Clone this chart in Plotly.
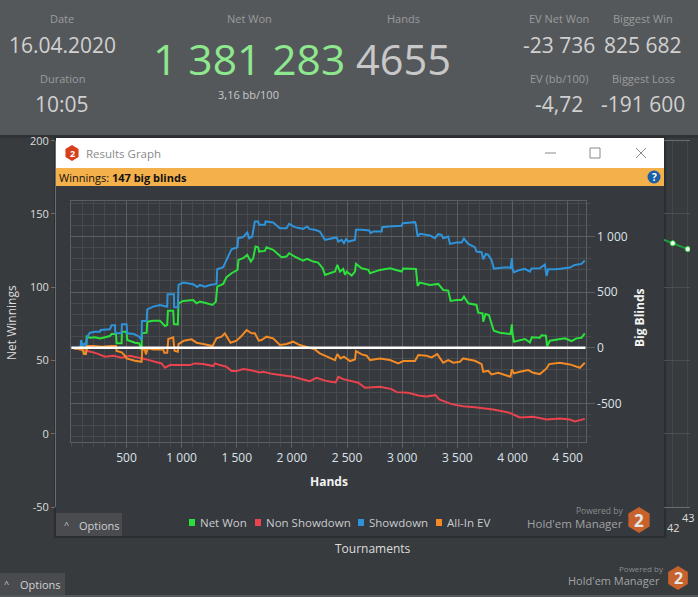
import plotly.graph_objects as go

W = 698
H = 597

# Series: hands played / big blinds
showdown_hands = [0, 48, 85, 88, 103, 124, 133, 145, 169, 214, 260, 266, 350, 365, 396, 399, 456, 459, 501, 507, 568, 616, 637, 640, 683, 689, 743, 803, 870, 873, 930, 933, 966, 972, 1015, 1060, 1105, 1142, 1166, 1211, 1256, 1317, 1323, 1377, 1407, 1453, 1507, 1513, 1558, 1595, 1613, 1640, 1664, 1694, 1703, 1755, 1761, 1830, 1891, 1951, 1975, 2026, 2102, 2138, 2162, 2208, 2253,
                  2300, 2406, 2421, 2451, 2472, 2491, 2512, 2572, 2581, 2633, 2702, 2714, 2738, 2814, 2820, 2874, 2995, 3004, 3116, 3125, 3140, 3161, 3252, 3297, 3327, 3357, 3372, 3418, 3433, 3493, 3539, 3560, 3599, 3659, 3674, 3720, 3735, 3759, 3780, 3810, 3831, 3886, 3946, 3982, 3995, 4001, 4013, 4067, 4112, 4158, 4173, 4248, 4294, 4309, 4324, 4399, 4520, 4565, 4626, 4656]
showdown_bb = [0, -6, 9, 69, 24, 39, 9, 99, 135, 144, 144, 159, 165, 201, 201, 129, 129, 210, 210, 129, 123, 99, 69, 240, 240, 345, 369, 384, 369, 480, 480, 363, 363, 564, 585, 579, 570, 546, 564, 549, 564, 573, 705, 723, 789, 885, 903, 984, 993, 1035, 984, 999, 1134, 1134, 1104, 1104, 1134, 1125, 1074, 1074, 1113, 1083, 1068, 1089, 1065, 1059, 1044,
               969, 990, 954, 969, 939, 975, 954, 969, 1059, 1059, 1053, 1029, 1044, 1044, 1083, 1089, 1095, 1119, 1128, 1104, 999, 1023, 1008, 984, 1020, 1014, 984, 999, 933, 945, 945, 981, 933, 903, 864, 858, 795, 843, 834, 789, 711, 717, 723, 717, 804, 705, 678, 699, 708, 684, 711, 714, 747, 645, 705, 705, 720, 744, 753, 783]

net_won_hands = [0, 48, 85, 94, 115, 133, 139, 169, 214, 260, 350, 365, 405, 411, 456, 459, 501, 507, 577, 616, 637, 640, 683, 689, 743, 803, 849, 870, 876, 924, 930, 966, 972, 1015, 1105, 1136, 1166, 1226, 1280, 1311, 1323, 1377, 1407, 1453, 1507, 1516, 1558, 1595, 1628, 1649, 1670, 1694, 1703, 1755, 1770, 1830, 1906, 1951, 1975, 2026, 2102, 2138, 2193, 2238, 2279,
                 2300, 2391, 2412, 2436, 2466, 2482, 2497, 2542, 2572, 2581, 2633, 2693, 2708, 2799, 2889, 2995, 3010, 3125, 3140, 3161, 3252, 3327, 3372, 3418, 3439, 3493, 3539, 3560, 3599, 3674, 3689, 3729, 3735, 3756, 3786, 3810, 3831, 3886, 3982, 3995, 4001, 4013, 4067, 4112, 4158, 4176, 4248, 4263, 4303, 4315, 4339, 4429, 4475, 4535, 4580, 4626, 4656]
net_won_bb = [0, -12, -15, 45, -51, -51, 99, 90, 93, 84, 105, 123, 123, 39, 39, 144, 144, 69, 45, 39, -21, 129, 135, 234, 243, 243, 195, 204, 333, 333, 213, 210, 399, 420, 429, 399, 414, 399, 384, 414, 549, 573, 633, 669, 699, 789, 804, 834, 774, 804, 909, 903, 864, 870, 903, 879, 813, 819, 849, 819, 783, 798, 774, 765, 714,
              654, 684, 744, 684, 708, 654, 684, 648, 684, 753, 714, 699, 669, 699, 714, 684, 711, 708, 555, 585, 564, 573, 519, 513, 420, 429, 429, 459, 399, 384, 315, 309, 234, 303, 294, 219, 153, 135, 123, 210, 123, 54, 69, 78, 48, 93, 90, 111, 108, 15, 63, 75, 84, 60, 84, 90, 129]

allin_hands = [0, 48, 85, 94, 115, 133, 145, 199, 275, 365, 405, 411, 456, 486, 501, 577, 622, 637, 643, 667, 676, 692, 743, 834, 843, 870, 879, 924, 936, 966, 972, 1021, 1090, 1136, 1196, 1280, 1317, 1362, 1392, 1422, 1444, 1498, 1543, 1589, 1634, 1664, 1700, 1724, 1770, 1830, 1891, 1951, 2011, 2072, 2132, 2208, 2253,
               2331, 2391, 2412, 2442, 2472, 2527, 2572, 2581, 2633, 2678, 2708, 2799, 2889, 2965, 3010, 3116, 3146, 3221, 3267, 3318, 3372, 3418, 3463, 3523, 3554, 3659, 3720, 3735, 3780, 3810, 3871, 3982, 3995, 4013, 4067, 4143, 4188, 4248, 4309, 4333, 4429, 4520, 4611, 4656]
allin_bb = [0, -6, -15, 9, -57, -57, 15, 15, 9, 15, 15, -30, -42, -72, -96, -117, -129, -126, -21, -15, -60, -6, -15, -15, -45, -45, 78, 93, -27, -36, 33, 63, 75, 45, 33, 15, 84, 99, 129, 84, 45, 63, 105, 159, 129, 129, 63, 69, 99, 84, 24, 33, 54, 24, 9, -15, -51,
            -81, -111, -57, -96, -81, -120, -105, -30, -60, -72, -111, -96, -111, -141, -120, -120, -66, -72, -87, -57, -135, -111, -135, -126, -96, -117, -147, -216, -207, -240, -225, -261, -195, -231, -216, -201, -225, -237, -186, -147, -135, -150, -180, -135]

non_sd_hands = [0, 79, 139, 230, 305, 381, 456, 532, 622, 683, 758, 818, 849, 894, 984, 1075, 1120, 1196, 1287, 1302, 1347, 1407, 1453, 1498, 1558, 1619, 1709, 1740, 1830, 1891, 2011, 2102, 2162, 2223, 2255, 2315, 2397, 2421, 2466, 2557, 2602, 2663, 2799, 2904,
                2950, 3055, 3146, 3221, 3303, 3336, 3448, 3554, 3659, 3825, 3976, 4067, 4188, 4309, 4429, 4520, 4565, 4656]
non_sd_bb = [0, -12, -27, -51, -81, -72, -90, -72, -90, -105, -126, -141, -180, -156, -156, -156, -141, -147, -165, -141, -156, -171, -210, -210, -192, -201, -222, -216, -237, -246, -261, -285, -300, -270, -282, -300, -312, -261, -282, -300, -315, -360, -351, -372,
             -399, -405, -429, -438, -426, -465, -507, -525, -534, -555, -585, -627, -621, -645, -636, -645, -663, -639]

# Chart behind the popup
tournaments = [41, 42, 43]
net_winnings = [134, 130, 126]

hand_ticks = [500, 1000, 1500, 2000, 2500, 3000, 3500, 4000, 4500]
hand_labels = ["500", "1 000", "1 500", "2 000", "2 500", "3 000", "3 500", "4 000", "4 500"]
bb_ticks = [-500, 0, 500, 1000]
bb_labels = ["-500", "0", "500", "1 000"]
back_ticks = [-50, 0, 50, 100, 150, 200]
back_labels = ["-50", "0", "50", "100", "150", "200"]

series_names = ["Net Won", "Non Showdown", "Showdown", "All-In EV"]
series_colors = ["#2be03c", "#e8434e", "#2f93d9", "#f28a26"]

FONT = "Open Sans"
GRID = "#47494d"
GRID_MAJOR = "#5c5f62"


# pixel position in the screenshot -> paper coordinates
def fx(x):
    return x / W


def fy(y):
    return 1 - y / H


def text(fig, x, y, s, size=12, color="#dddddd", anchor="center", angle=0):
    fig.add_annotation(xref="paper", yref="paper", x=fx(x), y=fy(y), text=s, showarrow=False,
                       xanchor=anchor, yanchor="middle", textangle=angle, borderpad=0,
                       font=dict(family=FONT, size=size, color=color))


def box(fig, x0, y0, x1, y1, fill):
    fig.add_shape(type="rect", xref="paper", yref="paper", x0=fx(x0), x1=fx(x1), y0=fy(y0), y1=fy(y1),
                  fillcolor=fill, line_width=0, layer="below")


def stroke(fig, x0, y0, x1, y1, color="#8a8a8a", width=1):
    fig.add_shape(type="line", xref="paper", yref="paper", x0=fx(x0), x1=fx(x1), y0=fy(y0), y1=fy(y1),
                  line=dict(color=color, width=width), layer="below")


def hexagon(fig, cx, cy, r, fill):
    pts = [(cx, cy - r), (cx + r * 0.82, cy - r * 0.5), (cx + r * 0.82, cy + r * 0.5),
           (cx, cy + r), (cx - r * 0.82, cy + r * 0.5), (cx - r * 0.82, cy - r * 0.5)]
    path = "M " + " L ".join(f"{fx(a):.5f},{fy(b):.5f}" for a, b in pts) + " Z"
    fig.add_shape(type="path", xref="paper", yref="paper", path=path, fillcolor=fill, line_width=0, layer="below")


fig = go.Figure()

# popup chart lines
for name, color, xs, ys in [
    ("Net Won", series_colors[0], net_won_hands, net_won_bb),
    ("Non Showdown", series_colors[1], non_sd_hands, non_sd_bb),
    ("Showdown", series_colors[2], showdown_hands, showdown_bb),
    ("All-In EV", series_colors[3], allin_hands, allin_bb),
]:
    fig.add_trace(go.Scatter(x=xs, y=ys, name=name, mode="lines", line=dict(color=color, width=2)))

# the chart behind it, only its right end shows
fig.add_trace(go.Scatter(x=tournaments, y=net_winnings, xaxis="x2", yaxis="y2", mode="lines+markers",
                         line=dict(color="#1f9a3c", width=2),
                         marker=dict(size=5, color="white", line=dict(color="#2be03c", width=1))))

fig.add_shape(type="line", xref="x", yref="y", x0=0, x1=4664, y0=0, y1=0,
              line=dict(color="white", width=2.5), layer="above")

# page and stats panel
box(fig, 0, 0, W, 135, "#55585b")
box(fig, 0, 135, W, 138, "#2f3134")
box(fig, 0, 595, W, H, "#55585b")

# popup window
box(fig, 54, 136, 666, 538, "#2b2d30")
box(fig, 56, 138, 664, 536, "#36393d")
box(fig, 56, 138, 664, 168, "#ffffff")
box(fig, 56, 168, 664, 186, "#f4b04a")
box(fig, 56, 513, 122, 536, "#494b4e")
box(fig, 0, 573, 65, 595, "#494b4e")

text(fig, 62, 19, "Date", 11, "#999b9d")
text(fig, 62, 45, "16.04.2020", 21, "#d0d0d0")
text(fig, 62, 78, "Duration", 11, "#999b9d")
text(fig, 62, 104, "10:05", 21, "#d0d0d0")
text(fig, 249, 19, "Net Won", 11, "#999b9d")
text(fig, 248.5, 59, "1 381 283", 42.5, "#8ee88e")
text(fig, 248, 95, "3,16 bb/100", 11, "#c8c8c8")
text(fig, 404, 19, "Hands", 11, "#999b9d")
text(fig, 404, 59, "4655", 41.5, "#c8c8c8")
text(fig, 559, 19, "EV Net Won", 11, "#999b9d")
text(fig, 559, 45, "-23 736", 21, "#d0d0d0")
text(fig, 643, 19, "Biggest Win", 11, "#999b9d")
text(fig, 643, 45, "825 682", 21, "#d0d0d0")
text(fig, 559, 78, "EV (bb/100)", 11, "#999b9d")
text(fig, 559, 104, "-4,72", 21, "#d0d0d0")
text(fig, 643, 78, "Biggest Loss", 11, "#999b9d")
text(fig, 643, 104, "-191 600", 21, "#d0d0d0")

# title bar
hexagon(fig, 72, 153, 8, "#d8401c")
text(fig, 72, 153, "<b>2</b>", 9, "white")
text(fig, 85, 153, "Results Graph", 11.5, "#8a8a8a", anchor="left")
stroke(fig, 545, 153, 556, 153)
stroke(fig, 590, 148, 600, 148)
stroke(fig, 590, 158, 600, 158)
stroke(fig, 590, 148, 590, 158)
stroke(fig, 600, 148, 600, 158)
stroke(fig, 636, 148, 646, 158)
stroke(fig, 636, 158, 646, 148)

text(fig, 58, 177, "Winnings: <b>147 big blinds</b>", 11, "#111111", anchor="left")
fig.add_shape(type="circle", xref="paper", yref="paper", x0=fx(647.5), x1=fx(660.5), y0=fy(170.5), y1=fy(183.5),
              fillcolor="#1b5fa8", line_width=0, layer="below")
text(fig, 654, 177, "<b>?</b>", 10, "white")

# legend row
for sx, tx, name, color in zip([192, 258, 361, 439], [199, 265, 368, 446], series_names, series_colors):
    box(fig, sx - 3, 519, sx + 3, 526, color)
    text(fig, tx, 522.5, name, 11.5, "#c9ccd0", anchor="left")

text(fig, 66, 524, "^", 9, "#cccccc")
text(fig, 99, 525, "Options", 11, "#cfd1d3")
text(fig, 6, 583, "^", 9, "#cccccc")
text(fig, 40, 584, "Options", 11, "#cfd1d3")

text(fig, 599, 510, "Powered by", 8.5, "#8a8c8e")
text(fig, 575, 523.5, "Hold'em Manager", 11.5, "#a0a2a4")
hexagon(fig, 639, 520, 13, "#c8622c")
text(fig, 639, 520, "<b>2</b>", 17, "#e6e6e6")

text(fig, 641, 568, "Powered by", 8, "#8a8c8e")
text(fig, 614, 580.5, "Hold'em Manager", 11, "#a0a2a4")
hexagon(fig, 678, 578, 12, "#c8622c")
text(fig, 678, 578, "<b>2</b>", 16, "#e6e6e6")

# axis titles and the stray labels
text(fig, 329, 481, "<b>Hands</b>", 12, "#f2f2f2")
text(fig, 639, 318, "<b>Big Blinds</b>", 12, "#f2f2f2", angle=-90)
text(fig, 373, 548, "Tournaments", 12, "#dddddd")
text(fig, 11, 323, "Net Winnings", 12, "#dddddd", angle=-90)
text(fig, 673, 527, "42", 11, "#dddddd")
text(fig, 688, 517, "43", 11, "#dddddd")

fig.update_layout(
    width=W,
    height=H,
    margin=dict(l=0, r=0, t=0, b=0, autoexpand=False),
    paper_bgcolor="#383b3e",
    plot_bgcolor="rgba(0,0,0,0)",
    showlegend=False,
    font=dict(family=FONT, size=12, color="#dde3ea"),
    xaxis=dict(domain=[fx(71.3), fx(585.7)], range=[0, 4664], tickmode="array", tickvals=hand_ticks,
               ticktext=hand_labels, ticks="outside", ticklen=5, tickcolor=GRID_MAJOR, gridcolor=GRID_MAJOR,
               showline=True, linecolor=GRID_MAJOR, mirror=True, zeroline=False, anchor="y",
               tickfont=dict(size=12, color="#dde3ea"),
               minor=dict(dtick=100, tick0=0, showgrid=True, gridcolor=GRID, ticks="outside", ticklen=4,
                          tickcolor=GRID)),
    yaxis=dict(domain=[fy(442), fy(201)], range=[-847, 1318], side="right", tickmode="array", tickvals=bb_ticks,
               ticktext=bb_labels, ticks="outside", ticklen=8, tickcolor=GRID_MAJOR, gridcolor=GRID_MAJOR,
               showline=True, linecolor=GRID_MAJOR, mirror=True, zeroline=False, anchor="x",
               tickfont=dict(size=12, color="#dde3ea"),
               minor=dict(dtick=100, tick0=0, showgrid=True, gridcolor=GRID, ticks="outside", ticklen=4,
                          tickcolor=GRID)),
    xaxis2=dict(domain=[fx(664), fx(690)], range=[41.42, 43.15], tickvals=[42, 43], showticklabels=False,
                gridcolor="#444649", showline=True, linecolor="#6a6c6f", mirror=True, zeroline=False, anchor="y2"),
    yaxis2=dict(domain=[fy(507), fy(140.7)], range=[-50, 200], tickmode="array", tickvals=back_ticks,
                ticktext=back_labels, ticks="outside", ticklen=4, tickcolor="#6a6c6f", gridcolor="#4c4e51",
                showline=True, linecolor="#6a6c6f", zeroline=False, anchor="free", position=fx(55),
                tickfont=dict(size=11, color="#dddddd")),
)

fig.write_html("out.html", config={"displayModeBar": False},
               post_script="document.body.style.margin='0';")
